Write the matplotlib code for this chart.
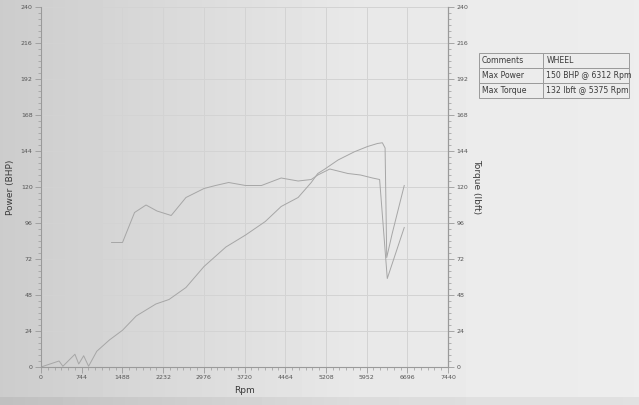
import numpy as np
import matplotlib
matplotlib.use('Agg')
import matplotlib.pyplot as plt
from matplotlib.ticker import MultipleLocator

# dyno run values
power_rpm = [0, 330, 400, 620, 690, 780, 870, 1020, 1250, 1490, 1740, 2100, 2340, 2650,
             2980, 3380, 3740, 4100, 4390, 4700, 4940, 5060, 5190, 5430, 5730, 5970,
             6150, 6240, 6290, 6320, 6420, 6640]
power_bhp = [0, 4, 0.5, 8.5, 2, 7.5, 0.5, 10.5, 18, 24.5, 34, 42, 45, 53,
             67, 80, 88, 97, 107, 113, 123, 129, 132, 138, 143.5, 147,
             149, 149.5, 146, 73, 89, 121]

torque_rpm = [1290, 1490, 1710, 1920, 2120, 2380, 2650, 2980, 3190, 3430, 3740, 4030,
              4390, 4700, 4940, 5060, 5280, 5390, 5610, 5840, 6060, 6190, 6330, 6640]
torque_lbft = [83, 83, 103, 108, 104, 101, 113, 119, 121, 123, 121, 121,
               126, 124, 125, 128, 132, 131, 129, 128, 126, 125, 59, 93]

rpm_ticks = [0, 744, 1488, 2232, 2976, 3720, 4464, 5208, 5952, 6696, 7440]
y_ticks = list(range(0, 241, 24))

table_rows = [['Comments', 'WHEEL'],
              ['Max Power', '150 BHP @ 6312 Rpm'],
              ['Max Torque', '132 lbft @ 5375 Rpm']]

line_col = '#a6a6a6'
grid_col = '#d3d3d3'
axis_col = '#9a9a9a'
text_col = '#3a3a3a'

fig = plt.figure(figsize=(6.39, 4.05), dpi=100)

# scanned-paper background
bg = fig.add_axes([0, 0, 1, 1], zorder=-10)
h, w = 405, 639
xs = np.linspace(0, 1, w)
shade = 0.80 + 0.11 * np.clip(xs / 0.55, 0, 1) + 0.02 * np.clip((xs - 0.55) / 0.45, 0, 1)
img = np.tile(shade, (h, 1))
img[:, 466:] = np.maximum(img[:, 466:], 0.925)
img[397:, :] -= 0.05
bg.imshow(img, cmap='gray', vmin=0, vmax=1, aspect='auto', interpolation='bilinear')
bg.axis('off')

ax = fig.add_axes([41 / 639, 38 / 405, 407 / 639, 360 / 405])
ax.set_facecolor('none')
ax.plot(power_rpm, power_bhp, color=line_col, lw=0.7)
ax.plot(torque_rpm, torque_lbft, color=line_col, lw=0.7)

ax.set_xlim(0, 7440)
ax.set_ylim(0, 240)
ax.set_xticks(rpm_ticks)
ax.set_yticks(y_ticks)
ax.xaxis.set_minor_locator(MultipleLocator(124))
ax.yaxis.set_minor_locator(MultipleLocator(4))
ax.grid(True, which='major', color=grid_col, lw=0.7)
ax.spines['top'].set_visible(False)
for s in ['left', 'bottom', 'right']:
    ax.spines[s].set_color(axis_col)
    ax.spines[s].set_linewidth(0.8)
ax.tick_params(which='major', length=4, width=0.6, color=axis_col,
               labelsize=4.5, labelcolor='#555555', pad=2)
ax.tick_params(which='minor', length=2, width=0.5, color=axis_col)
ax.set_xlabel('Rpm', fontsize=6.5, color=text_col, labelpad=4)
ax.set_ylabel('Power (BHP)', fontsize=6.5, color=text_col, labelpad=4)

ax2 = ax.twinx()
ax2.set_ylim(0, 240)
ax2.set_yticks(y_ticks)
ax2.yaxis.set_minor_locator(MultipleLocator(4))
for s in ['top', 'left', 'bottom']:
    ax2.spines[s].set_visible(False)
ax2.spines['right'].set_color(axis_col)
ax2.spines['right'].set_linewidth(0.8)
ax2.tick_params(which='major', length=4, width=0.6, color=axis_col,
                labelsize=4.5, labelcolor='#555555', pad=2)
ax2.tick_params(which='minor', length=2, width=0.5, color=axis_col)
ax2.set_ylabel('Torque (lbft)', fontsize=6.5, color=text_col, rotation=270, labelpad=9)

# summary table
tab_ax = fig.add_axes([479 / 639, 307 / 405, 150 / 639, 45 / 405])
tab_ax.axis('off')
tab = tab_ax.table(cellText=table_rows, colWidths=[0.427, 0.573], cellLoc='left',
                   bbox=[0, 0, 1, 1])
tab.auto_set_font_size(False)
for (r, c), cell in tab.get_celld().items():
    cell.set_facecolor('#ececec')
    cell.set_edgecolor('#9a9a9a')
    cell.set_linewidth(0.7)
    cell.get_text().set_fontsize(5.6)
    cell.get_text().set_color(text_col)
    cell.PAD = 0.04

fig.savefig('out.png', dpi=100)
